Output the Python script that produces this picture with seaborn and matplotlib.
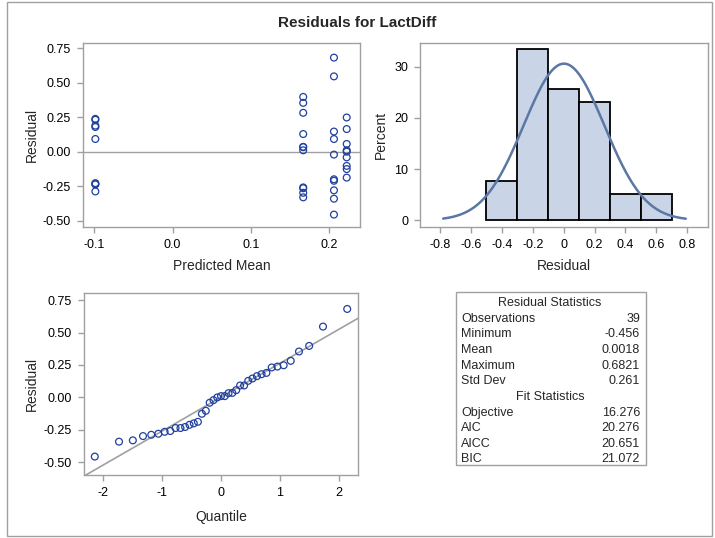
import numpy as np
import pandas as pd
import matplotlib
matplotlib.use("Agg")
import matplotlib.pyplot as plt
import seaborn as sns
from statistics import NormalDist
from matplotlib.patches import Rectangle

# ---------------- data ----------------
pred_levels = [-0.0987, 0.1670, 0.2063, 0.2226]
res_g1 = [0.238, 0.231, 0.189, 0.179, 0.092, -0.228, -0.236, -0.236, -0.288]
res_g2 = [0.397, 0.354, 0.282, 0.128, 0.035, 0.033, 0.010, -0.259, -0.265, -0.298, -0.331]
res_g3 = [0.682, 0.546, 0.146, 0.092, -0.021, -0.200, -0.211, -0.280, -0.341, -0.456]
res_g4 = [0.248, 0.164, 0.056, 0.010, 0.000, -0.041, -0.103, -0.126, -0.188]

hist_edges = [-0.5, -0.3, -0.1, 0.1, 0.3, 0.5, 0.7]

stat_labels = ["Observations", "Minimum", "Mean", "Maximum", "Std Dev"]
stat_values = ["39", "-0.456", "0.0018", "0.6821", "0.261"]
fit_labels = ["Objective", "AIC", "AICC", "BIC"]
fit_values = ["16.276", "20.276", "20.651", "21.072"]
res_mean = 0.0018
res_sd = 0.261

title = "Residuals for LactDiff"

# ---------------- build frames ----------------
groups = [res_g1, res_g2, res_g3, res_g4]
pred, resid = [], []
for lvl, g in zip(pred_levels, groups):
    pred += [lvl] * len(g)
    resid += g
df = pd.DataFrame({"pred": pred, "resid": resid})

n = len(df)
sorted_res = np.sort(df["resid"].values)
nd = NormalDist()
quant = np.array([nd.inv_cdf((i - 0.375) / (n + 0.25)) for i in range(1, n + 1)])
qq = pd.DataFrame({"q": quant, "r": sorted_res})

# ---------------- style ----------------
sns.set_style("ticks")
plt.rcParams["font.family"] = ["Liberation Sans", "DejaVu Sans"]
plt.rcParams["font.size"] = 9

GRAY = "#A0A0A0"
MARK = "#2040A0"
FILL = "#C9D4E6"
CURVE = "#5B77A3"

W, H = 715, 538
fig = plt.figure(figsize=(W / 100, H / 100), dpi=100)

def box(l, t, r, b):
    return [l / W, 1 - b / H, (r - l) / W, (b - t) / H]

def style_ax(ax):
    for s in ax.spines.values():
        s.set_color(GRAY)
        s.set_linewidth(1.0)
        s.set_visible(True)
    ax.tick_params(axis="both", which="both", direction="out", length=4.5,
                   width=1.0, color=GRAY, labelcolor="black", labelsize=9, pad=4)
    ax.grid(False)

# outer border
fig.patches.append(Rectangle((7 / W, 2 / H), (712 - 7) / W, (536 - 2) / H,
                             transform=fig.transFigure, fill=False,
                             edgecolor=GRAY, linewidth=1.0))

fig.text(0.5, 1 - 23 / H, title, ha="center", va="center",
         fontsize=11, fontweight="bold")

# ---------- residual vs predicted ----------
ax1 = fig.add_axes(box(83, 43, 360, 227))
ax1.axhline(0, color=GRAY, lw=1.0, zorder=1)
sns.scatterplot(data=df, x="pred", y="resid", ax=ax1, marker="o",
                facecolors="none", edgecolor=MARK, linewidth=0.9, s=24, zorder=3)
ax1.set_xlim(-0.1145, 0.2396)
ax1.set_ylim(-0.546, 0.788)
ax1.set_xticks([-0.1, 0.0, 0.1, 0.2])
ax1.set_xticklabels(["-0.1", "0.0", "0.1", "0.2"])
ax1.set_yticks([-0.5, -0.25, 0, 0.25, 0.5, 0.75])
ax1.set_yticklabels(["-0.50", "-0.25", "0.00", "0.25", "0.50", "0.75"])
ax1.set_xlabel("Predicted Mean", fontsize=10)
ax1.set_ylabel("Residual", fontsize=10)
ax1.xaxis.set_label_coords(0.5, -0.175)
ax1.yaxis.set_label_coords(-0.158, 0.5)
style_ax(ax1)

# ---------- histogram ----------
ax2 = fig.add_axes(box(420, 43, 708, 227))
sns.histplot(data=df, x="resid", bins=hist_edges, stat="percent", ax=ax2,
             color=FILL, edgecolor="black", linewidth=1.3, alpha=1.0, zorder=2)
xs = np.linspace(-0.78, 0.79, 200)
bw = hist_edges[1] - hist_edges[0]
curve = pd.DataFrame({"x": xs,
                      "y": [100 * bw * NormalDist(res_mean, res_sd).pdf(v) for v in xs]})
sns.lineplot(data=curve, x="x", y="y", ax=ax2, color=CURVE, lw=1.8, zorder=3)
ax2.set_xlim(-0.93, 0.934)
ax2.set_ylim(-1.3, 34.6)
ax2.set_xticks([-0.8, -0.6, -0.4, -0.2, 0, 0.2, 0.4, 0.6, 0.8])
ax2.set_xticklabels(["-0.8", "-0.6", "-0.4", "-0.2", "0", "0.2", "0.4", "0.6", "0.8"])
ax2.set_yticks([0, 10, 20, 30])
ax2.set_xlabel("Residual", fontsize=10)
ax2.set_ylabel("Percent", fontsize=10)
ax2.xaxis.set_label_coords(0.5, -0.175)
ax2.yaxis.set_label_coords(-0.11, 0.5)
style_ax(ax2)

# ---------- QQ plot ----------
ax3 = fig.add_axes(box(84, 293, 358, 475))
xl = (-2.33, 2.33)
line = pd.DataFrame({"x": list(xl), "y": [res_mean + res_sd * v for v in xl]})
sns.lineplot(data=line, x="x", y="y", ax=ax3, color=GRAY, lw=1.2, zorder=1)
sns.scatterplot(data=qq, x="q", y="r", ax=ax3, marker="o",
                facecolors="none", edgecolor=MARK, linewidth=0.9, s=24, zorder=3)
ax3.set_xlim(*xl)
ax3.set_ylim(-0.598, 0.805)
ax3.set_xticks([-2, -1, 0, 1, 2])
ax3.set_xticklabels(["-2", "-1", "0", "1", "2"])
ax3.set_yticks([-0.5, -0.25, 0, 0.25, 0.5, 0.75])
ax3.set_yticklabels(["-0.50", "-0.25", "0.00", "0.25", "0.50", "0.75"])
ax3.set_xlabel("Quantile", fontsize=10)
ax3.set_ylabel("Residual", fontsize=10)
ax3.xaxis.set_label_coords(0.5, -0.195)
ax3.yaxis.set_label_coords(-0.164, 0.5)
style_ax(ax3)

# ---------- statistics table ----------
axt = fig.add_axes(box(455, 292, 646, 466))
axt.set_xlim(455, 646)
axt.set_ylim(466, 292)
axt.axis("off")
axt.add_patch(Rectangle((455.5, 292.5), 190, 173, fill=False, edgecolor=GRAY,
                        lw=1.0, clip_on=False))
row_y = 303.0
step = 15.65
axt.text(550, row_y, "Residual Statistics", ha="center", va="center", fontsize=9)
for lab, val in zip(stat_labels, stat_values):
    row_y += step
    axt.text(461, row_y, lab, ha="left", va="center", fontsize=9)
    axt.text(640, row_y, val, ha="right", va="center", fontsize=9)
row_y += step
axt.text(550, row_y, "Fit Statistics", ha="center", va="center", fontsize=9)
for lab, val in zip(fit_labels, fit_values):
    row_y += step
    axt.text(461, row_y, lab, ha="left", va="center", fontsize=9)
    axt.text(640, row_y, val, ha="right", va="center", fontsize=9)

fig.savefig("out.png", dpi=100)
